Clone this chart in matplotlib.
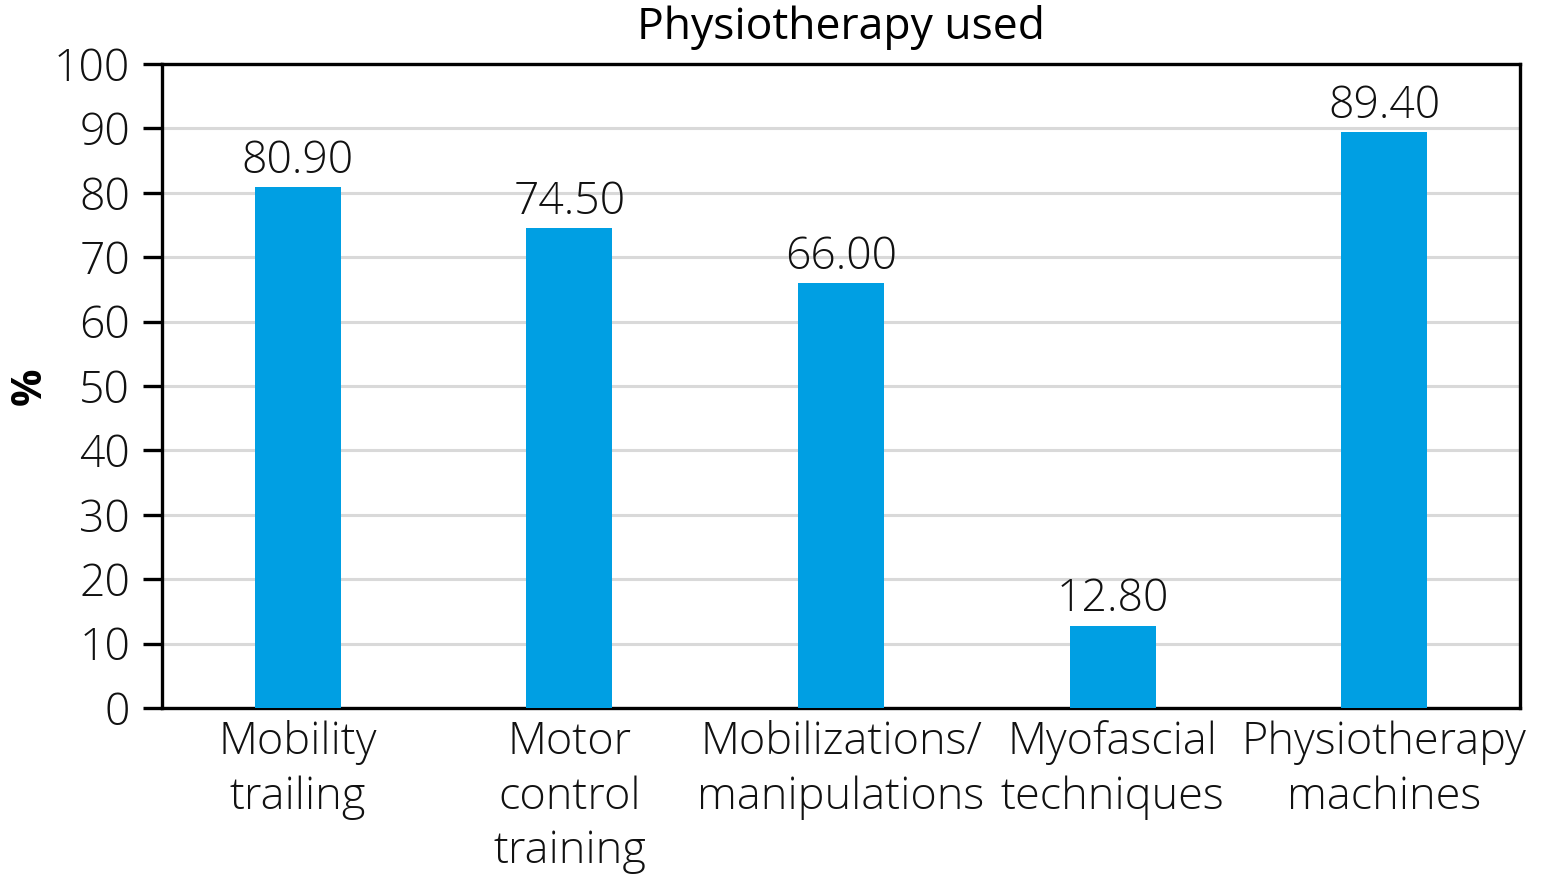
from matplotlib import pyplot as plt
import numpy as np

# data
categories = ['Mobility\ntrailing', 'Motor\ncontrol\ntraining', 'Mobilizations/\nmanipulations',
              'Myofascial\ntechniques', 'Physiotherapy\nmachines']
values = [80.9, 74.5, 66.0, 12.8, 89.4]
yticks = [0, 10, 20, 30, 40, 50, 60, 70, 80, 90, 100]

plt.rcParams['font.family'] = ['Open Sans', 'DejaVu Sans']

fig = plt.figure(figsize=(15.45, 8.8), dpi=100)
ax = fig.add_axes([0.1049, 0.1955, 0.8789, 0.7318])

x = np.arange(len(categories))
bars = ax.bar(x, values, width=0.317, color='#009FE3', zorder=3)

# value labels over the bars
for xi, v in zip(x, values):
    ax.text(xi, v + 0.5, '%.2f' % v, ha='center', va='bottom',
            fontsize=32, fontweight='light', color='#111111')

ax.set_xlim(-0.5, len(categories) - 0.5)
ax.set_ylim(0, 100)
ax.set_yticks(yticks)
ax.set_yticklabels([str(t) for t in yticks], fontsize=32, fontweight='light', color='#111111')
ax.set_xticks(x)
ax.set_xticklabels(categories, fontsize=32.5, fontweight='light', color='#111111', linespacing=1.3)

ax.grid(axis='y', color='#d9d9d9', linewidth=2.2, zorder=0)
for s in ax.spines.values():
    s.set_linewidth(2.4)
ax.tick_params(axis='y', length=14, width=2.4, pad=9)
ax.tick_params(axis='x', length=0, pad=9)

ax.set_title('Physiotherapy used', fontsize=32, fontweight='medium', pad=18)
ax.set_ylabel('%', fontsize=30, fontweight='bold')
# put the % label near the left edge of the figure
ax.yaxis.label.set_va('center')
ax.yaxis.set_label_coords(-0.097, 0.5)

plt.savefig('out.png', dpi=100)
